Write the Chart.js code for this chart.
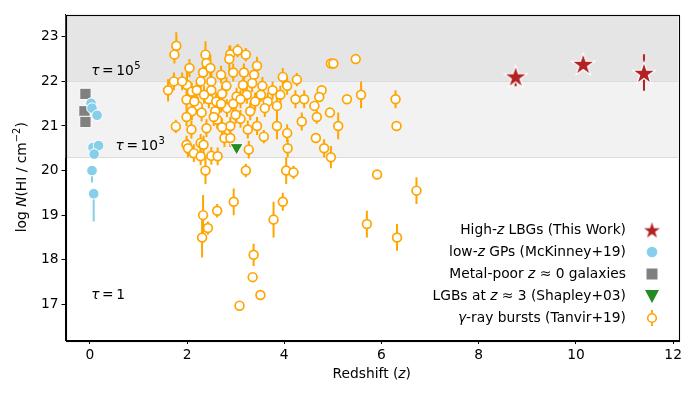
<!DOCTYPE html>
<html><head><meta charset="utf-8">
<script src="https://cdn.jsdelivr.net/npm/chart.js@4/dist/chart.umd.min.js"></script>
<style>html,body{margin:0;padding:0;background:#fff}#wrap{width:698px;height:399px;position:relative}</style>
</head><body><div id="wrap"><canvas id="c" width="698" height="399"></canvas></div>
<script>
// ---- axis ticks ----
const xTicks = [0, 2, 4, 6, 8, 10, 12];
const yTicks = [17, 18, 19, 20, 21, 22, 23];

// ---- High-z LBGs (This Work) ----
const lbgZ = [8.76, 10.15, 11.40];
const lbgN = [22.11, 22.39, 22.19];
const lbgErrLo = [0.22, 0.05, 0.40];
const lbgErrHi = [0.05, 0.05, 0.42];

// ---- low-z GPs (McKinney+19) ----
const gpZ = [0.025, 0.045, 0.15, 0.066, 0.18, 0.09, 0.045, 0.08];
const gpN = [21.51, 21.40, 21.24, 20.52, 20.56, 20.37, 20.00, 19.48];
const gpErrLo = [0, 0, 0, 0, 0, 0, 0.27, 0.62];
const gpErrHi = [0, 0, 0, 0, 0, 0, 0, 0];

// ---- Metal-poor z~0 galaxies ----
const mpZ = [-0.09, -0.11, -0.09];
const mpN = [21.72, 21.33, 21.09];

// ---- LBGs at z~3 (Shapley+03) ----
const shZ = [3.02];
const shN = [20.52];

// ---- gamma-ray bursts (Tanvir+19) ----
const grbZ = [1.78,1.74,2.38,2.40,2.89,3.04,3.21,2.87,2.05,2.33,2.48,2.70,2.95,3.17,3.38,3.44,
  1.73,1.61,2.00,2.28,2.50,2.81,3.15,3.34,1.99,2.10,2.20,2.50,2.72,3.02,3.23,3.52,3.66,3.76,
  3.97,4.06,4.26,3.92,3.85,4.23,4.41,4.36,4.06,4.07,3.85,3.58,3.44,3.25,3.30,3.10,2.89,2.72,
  2.62,2.82,2.58,2.40,2.22,2.10,1.99,2.09,1.77,1.99,2.02,2.28,2.34,2.14,2.28,2.50,2.77,2.89,
  3.27,2.63,2.38,3.21,4.04,4.19,2.96,2.62,2.33,2.43,2.31,3.97,3.78,3.37,3.35,3.51,3.08,
  4.96,5.01,5.47,4.77,4.72,4.62,4.94,4.67,5.29,5.58,6.29,6.31,5.11,4.65,4.82,4.96,5.91,6.72,
  5.70,6.32,2.15,2.45,2.60,2.70,2.95,3.10,3.40,2.35,1.90,3.60,2.55,3.00,2.30,3.55];
const grbN = [22.80,22.60,22.60,22.41,22.61,22.69,22.60,22.50,22.30,22.20,22.30,22.15,22.20,22.20,22.15,22.35,
  22.00,21.80,21.92,22.00,22.00,21.90,21.92,21.96,21.59,21.77,21.80,21.80,21.72,21.66,21.70,21.70,21.55,21.80,
  22.10,21.90,22.04,21.70,21.45,21.60,21.60,21.10,20.84,20.50,21.00,20.76,21.00,20.92,21.33,21.16,21.00,20.97,
  21.14,21.40,21.33,20.95,21.45,21.33,21.20,20.92,20.99,20.58,20.50,20.62,20.58,20.39,20.32,20.33,20.73,20.73,
  20.47,20.32,20.00,20.00,20.00,19.96,19.30,19.10,19.00,18.71,18.50,19.30,18.90,18.11,17.61,17.21,16.97,
  22.40,22.40,22.50,21.80,21.65,21.45,21.30,21.20,21.60,21.70,21.60,21.00,21.00,20.73,20.50,20.30,19.91,19.55,
  18.80,18.50,21.55,21.60,21.55,21.50,21.50,21.60,21.55,21.70,22.00,21.40,21.20,21.25,21.30,21.90];
const grbErr = [0.30,0.20,0.30,0.20,0.20,0.15,0.15,0.30,0.20,0.20,0.30,0.20,0.20,0.20,0.20,0.20,
  0.20,0.25,0.30,0.20,0.20,0.20,0.15,0.20,0.20,0.20,0.20,0.20,0.20,0.20,0.20,0.15,0.20,0.20,
  0.20,0.20,0.15,0.20,0.30,0.20,0.20,0.20,0.20,0.20,0.30,0.15,0.20,0.20,0.20,0.20,0.20,0.20,
  0.20,0.20,0.20,0.20,0.20,0.20,0.20,0.20,0.15,0.20,0.20,0.20,0.20,0.20,0.20,0.20,0.20,0.20,
  0.20,0.20,0.30,0.15,0.30,0.15,0.30,0.15,0.45,0.15,0.45,0.20,0.40,0.25,0.10,0.10,0.05,
  0.10,0.10,0.10,0.10,0.10,0.10,0.10,0.15,0.10,0.30,0.20,0.05,0.30,0.10,0.20,0.25,0.05,0.30,
  0.30,0.30,0.20,0.20,0.20,0.20,0.20,0.20,0.20,0.20,0.20,0.20,0.20,0.20,0.20,0.20];

// ---- optical-depth bands and labels ----
const bandEdges = [20.3, 22.0];
const tauLabels = [
  {z: 0.03, n: 22.22, sup: '5'},
  {z: 0.53, n: 20.54, sup: '3'},
  {z: 0.03, n: 17.21, sup: ''}
];

// ---- legend labels (segments; 1 = italic) ----
const legendLabels = [
  [['High-'], ['z', 1], [' LBGs (This Work)']],
  [['low-'], ['z', 1], [' GPs (McKinney+19)']],
  [['Metal-poor '], ['z', 1], [' \u2248 0 galaxies']],
  [['LGBs at '], ['z', 1], [' \u2248 3 (Shapley+03)']],
  [['\u03b3', 1], ['-ray bursts (Tanvir+19)']]
];

const FONT = 'DejaVu Sans';
const FS = 13.8;
const C_ORANGE = '#FFA500', C_BLUE = '#87CEEB', C_GREY = '#808080', C_GREEN = '#228B22', C_RED = '#B22222';

function makeStar(r, fill) {
  const s = Math.ceil(2 * r + 4);
  const cv = document.createElement('canvas');
  cv.width = s; cv.height = s;
  const c = cv.getContext('2d');
  const cx = s / 2, cy = s / 2 + r * 0.08, ri = r * 0.381966;
  c.beginPath();
  for (let k = 0; k < 10; k++) {
    const a = -Math.PI / 2 + k * Math.PI / 5;
    const rr = k % 2 === 0 ? r : ri;
    const px = cx + rr * Math.cos(a), py = cy + rr * Math.sin(a);
    if (k === 0) c.moveTo(px, py); else c.lineTo(px, py);
  }
  c.closePath();
  c.fillStyle = fill; c.fill();
  c.strokeStyle = '#fff'; c.lineWidth = 1.2; c.stroke();
  return cv;
}
const starImg = makeStar(12, C_RED);
const starLegend = makeStar(10.5, C_RED);

function pts(xs, ys) { return xs.map((x, i) => ({x: x, y: ys[i]})); }

function drawRich(ctx, segs, x, y, align) {
  let w = 0;
  const parts = segs.map(s => {
    const f = (s[1] ? 'italic ' : '') + FS + 'px "' + FONT + '"';
    ctx.font = f;
    const m = ctx.measureText(s[0]).width;
    w += m;
    return {t: s[0], f: f, w: m};
  });
  let cx = align === 'right' ? x - w : (align === 'center' ? x - w / 2 : x);
  ctx.textBaseline = 'middle';
  ctx.textAlign = 'left';
  parts.forEach(p => { ctx.font = p.f; ctx.fillText(p.t, cx, y); cx += p.w; });
  return w;
}

const customPlugin = {
  id: 'custom',
  beforeDatasetsDraw(chart) {
    const ctx = chart.ctx, a = chart.chartArea;
    const xs = chart.scales.x, ys = chart.scales.y;
    const y22 = ys.getPixelForValue(bandEdges[1]);
    const y203 = ys.getPixelForValue(bandEdges[0]);
    ctx.save();
    ctx.beginPath(); ctx.rect(a.left, a.top, a.right - a.left, a.bottom - a.top); ctx.clip();
    ctx.fillStyle = '#e5e5e5';
    ctx.fillRect(a.left, a.top, a.right - a.left, y22 - a.top);
    ctx.fillStyle = '#f2f2f2';
    ctx.fillRect(a.left, y22, a.right - a.left, y203 - y22);
    ctx.strokeStyle = '#dcdcdc'; ctx.lineWidth = 1;
    [y22, y203].forEach(yy => { ctx.beginPath(); ctx.moveTo(a.left, Math.round(yy) + 0.5); ctx.lineTo(a.right, Math.round(yy) + 0.5); ctx.stroke(); });
    // tau labels
    ctx.fillStyle = '#000';
    tauLabels.forEach(t => {
      const px = xs.getPixelForValue(t.z), py = ys.getPixelForValue(t.n);
      ctx.textBaseline = 'middle'; ctx.textAlign = 'left';
      let cx = px;
      ctx.font = 'italic ' + FS + 'px "' + FONT + '"';
      ctx.fillText('\u03c4', cx, py); cx += ctx.measureText('\u03c4').width + 2.5;
      ctx.font = FS + 'px "' + FONT + '"';
      ctx.fillText('=', cx, py); cx += ctx.measureText('=').width + 2.5;
      const num = t.sup ? '10' : '1';
      ctx.fillText(num, cx, py); cx += ctx.measureText(num).width;
      if (t.sup) {
        ctx.font = (FS * 0.72) + 'px "' + FONT + '"';
        ctx.fillText(t.sup, cx + 0.5, py - 5);
      }
    });
    // error bars
    chart.data.datasets.forEach((ds) => {
      if (!ds.errLo) return;
      ctx.strokeStyle = ds.errColor; ctx.lineWidth = ds.errWidth || 1.8;
      ds.data.forEach((p, i) => {
        const lo = ds.errLo[i], hi = ds.errHi[i];
        if (!lo && !hi) return;
        const px = xs.getPixelForValue(p.x);
        ctx.beginPath();
        ctx.moveTo(px, ys.getPixelForValue(p.y - lo));
        ctx.lineTo(px, ys.getPixelForValue(p.y + hi));
        ctx.stroke();
      });
    });
    ctx.restore();
  },
  afterDraw(chart) {
    const ctx = chart.ctx, a = chart.chartArea;
    ctx.save();
    ctx.strokeStyle = '#000'; ctx.lineWidth = 1.1;
    ctx.strokeRect(Math.round(a.left) + 0.5, Math.round(a.top) + 0.5, Math.round(a.right - a.left), Math.round(a.bottom - a.top));
    ctx.fillStyle = '#000';
    // x title
    drawRich(ctx, [['Redshift ('], ['z', 1], [')']], (a.left + a.right) / 2, 374, 'center');
    // y title
    ctx.save();
    ctx.translate(22, (a.top + a.bottom) / 2);
    ctx.rotate(-Math.PI / 2);
    const segs = [['log '], ['N', 1], ['(HI / cm']];
    let w = 0;
    segs.forEach(s => { ctx.font = (s[1] ? 'italic ' : '') + FS + 'px "' + FONT + '"'; w += ctx.measureText(s[0]).width; });
    ctx.font = (FS * 0.72) + 'px "' + FONT + '"';
    const supW = ctx.measureText('\u22122').width;
    ctx.font = FS + 'px "' + FONT + '"';
    const closeW = ctx.measureText(')').width;
    const total = w + supW + closeW;
    let cx = drawRich(ctx, segs, -total / 2, 0, 'left') - total / 2;
    ctx.font = (FS * 0.72) + 'px "' + FONT + '"';
    ctx.fillText('\u22122', cx, -5);
    cx += supW;
    ctx.font = FS + 'px "' + FONT + '"';
    ctx.fillText(')', cx, 0);
    ctx.restore();
    // legend
    const textR = a.right - 52, mX = a.right - 26;
    legendLabels.forEach((lab, i) => {
      const ly = a.bottom - 110 + i * 22;
      ctx.fillStyle = '#000';
      drawRich(ctx, lab, textR, ly, 'right');
      if (i === 0) {
        ctx.drawImage(starLegend, mX - starLegend.width / 2, ly - starLegend.height / 2);
      } else if (i === 1) {
        ctx.beginPath(); ctx.arc(mX, ly, 5.3, 0, Math.PI * 2);
        ctx.fillStyle = C_BLUE; ctx.fill();
      } else if (i === 2) {
        ctx.fillStyle = C_GREY; ctx.fillRect(mX - 5.5, ly - 5.5, 11, 11);
      } else if (i === 3) {
        ctx.beginPath(); ctx.moveTo(mX - 7, ly - 6); ctx.lineTo(mX + 7, ly - 6); ctx.lineTo(mX, ly + 7); ctx.closePath();
        ctx.fillStyle = C_GREEN; ctx.fill();
      } else {
        ctx.strokeStyle = C_ORANGE; ctx.lineWidth = 1.8;
        ctx.beginPath(); ctx.moveTo(mX, ly - 8); ctx.lineTo(mX, ly + 8); ctx.stroke();
        ctx.beginPath(); ctx.arc(mX, ly, 4.3, 0, Math.PI * 2);
        ctx.fillStyle = '#fff'; ctx.fill(); ctx.lineWidth = 1.6; ctx.stroke();
      }
    });
    ctx.restore();
  }
};

Chart.defaults.font.family = FONT;
Chart.defaults.font.size = FS;
Chart.defaults.color = '#000';

new Chart(document.getElementById('c'), {
  type: 'scatter',
  data: {
    datasets: [
      {label: 'High-z LBGs (This Work)', data: pts(lbgZ, lbgN), errLo: lbgErrLo, errHi: lbgErrHi, errColor: C_RED, errWidth: 2,
       pointStyle: starImg, pointRadius: 12, pointHoverRadius: 12},
      {label: 'low-z GPs (McKinney+19)', data: pts(gpZ, gpN), errLo: gpErrLo, errHi: gpErrHi, errColor: C_BLUE, errWidth: 2,
       pointStyle: 'circle', pointRadius: 5.3, pointBackgroundColor: C_BLUE, pointBorderColor: '#fff', pointBorderWidth: 1},
      {label: 'Metal-poor z~0 galaxies', data: pts(mpZ, mpN),
       pointStyle: 'rect', pointRadius: 8, pointBackgroundColor: C_GREY, pointBorderColor: '#fff', pointBorderWidth: 1},
      {label: 'LGBs at z~3 (Shapley+03)', data: pts(shZ, shN),
       pointStyle: 'triangle', pointRotation: 180, pointRadius: 7.5, pointBackgroundColor: C_GREEN, pointBorderColor: '#fff', pointBorderWidth: 1},
      {label: 'gamma-ray bursts (Tanvir+19)', data: pts(grbZ, grbN), errLo: grbErr, errHi: grbErr, errColor: C_ORANGE, errWidth: 2,
       pointStyle: 'circle', pointRadius: 4.4, pointBackgroundColor: '#fff', pointBorderColor: C_ORANGE, pointBorderWidth: 1.7}
    ]
  },
  options: {
    responsive: false,
    animation: false,
    devicePixelRatio: 1,
    layout: {padding: {top: 14.5, right: 20, left: 0, bottom: 0}},
    plugins: {legend: {display: false}, tooltip: {enabled: false}},
    scales: {
      x: {
        type: 'linear', min: -0.5, max: 12.1,
        afterBuildTicks: s => { s.ticks = xTicks.map(v => ({value: v})); },
        afterFit: s => { s.height = 59; },
        ticks: {font: {size: FS, family: FONT}, color: '#000', padding: 3, maxRotation: 0},
        grid: {drawOnChartArea: false, drawTicks: true, tickLength: 4, color: '#000', lineWidth: 1},
        border: {color: '#000', width: 1}
      },
      y: {
        type: 'linear', min: 16.2, max: 23.5,
        afterBuildTicks: s => { s.ticks = yTicks.map(v => ({value: v})); },
        afterFit: s => { s.width = 65.5; },
        ticks: {font: {size: FS, family: FONT}, color: '#000', padding: 3},
        grid: {drawOnChartArea: false, drawTicks: true, tickLength: 4, color: '#000', lineWidth: 1},
        border: {color: '#000', width: 1}
      }
    }
  },
  plugins: [customPlugin]
});
</script>
</body></html>
